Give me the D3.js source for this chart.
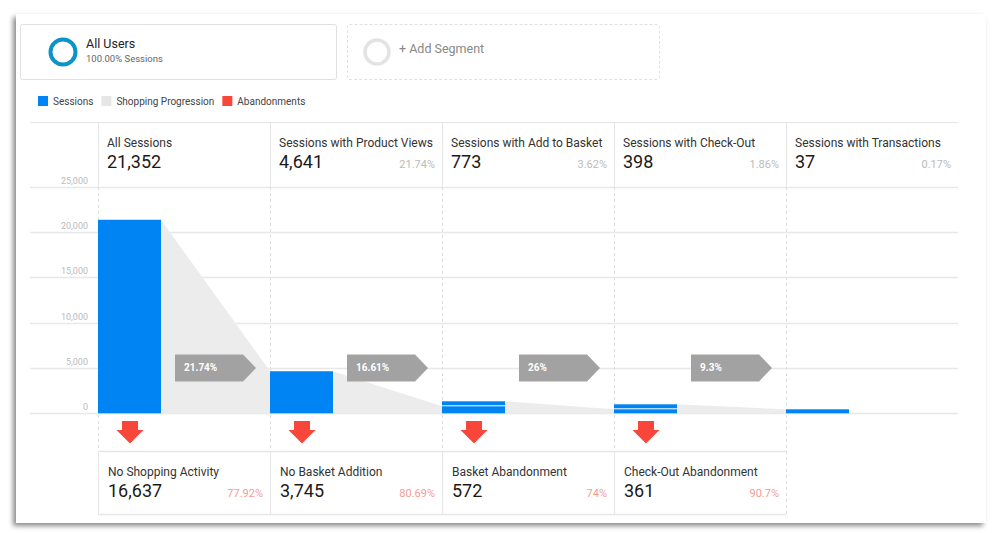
<!DOCTYPE html>
<html><head><meta charset="utf-8">
<script src="https://cdn.jsdelivr.net/npm/d3@7"></script>
<style>
html,body{margin:0;padding:0;background:#fff;}
svg{display:block;font-family:Roboto,"Noto Sans",sans-serif;}
</style></head>
<body>
<svg id="c" width="1000" height="533"></svg>
<script>
// ---- data ----
const steps = ["All Sessions","Sessions with Product Views","Sessions with Add to Basket","Sessions with Check-Out","Sessions with Transactions"];
const sessions = [21352, 4641, 773, 398, 37];
const stepPct = ["", "21.74%", "3.62%", "1.86%", "0.17%"];
const otherEntries = [0, 0, 150, 120, 0];   // small stacked top segments
const progressionRates = ["21.74%", "16.61%", "26%", "9.3%"];
const abandonLabels = ["No Shopping Activity","No Basket Addition","Basket Abandonment","Check-Out Abandonment"];
const abandonValues = [16637, 3745, 572, 361];
const abandonPct = ["77.92%", "80.69%", "74%", "90.7%"];
const yTicks = [0, 5000, 10000, 15000, 20000, 25000];
const legendItems = [["Sessions","#0084f4"],["Shopping Progression","#e6e6e6"],["Abandonments","#f9463a"]];

const svg = d3.select("#c");
const defs = svg.append("defs");
const f = defs.append("filter").attr("id","sh").attr("x","-5%").attr("y","-5%").attr("width","110%").attr("height","115%");
f.append("feDropShadow").attr("dx",-3).attr("dy",3).attr("stdDeviation",2.5).attr("flood-color","#000").attr("flood-opacity",0.45);

// panel
svg.append("rect").attr("x",16).attr("y",14).attr("width",970).attr("height",509).attr("fill","#fff").attr("filter","url(#sh)");

// segment boxes
svg.append("rect").attr("x",20.5).attr("y",24.5).attr("width",316).attr("height",55).attr("rx",2).attr("fill","#fff").attr("stroke","#e0e0e0");
svg.append("circle").attr("cx",63).attr("cy",52).attr("r",12.5).attr("fill","none").attr("stroke","#0b93cc").attr("stroke-width",4);
svg.append("text").attr("x",86).attr("y",48).attr("font-size",12.5).attr("fill","#222").text("All Users");
svg.append("text").attr("x",86).attr("y",62).attr("font-size",9.5).attr("fill","#666").text("100.00% Sessions");
svg.append("rect").attr("x",347.5).attr("y",24.5).attr("width",312).attr("height",55).attr("rx",2).attr("fill","#fff").attr("stroke","#e0e0e0").attr("stroke-dasharray","3,2");
svg.append("circle").attr("cx",377).attr("cy",52).attr("r",12).attr("fill","none").attr("stroke","#e3e3e3").attr("stroke-width",3.5);
svg.append("text").attr("x",399).attr("y",53).attr("font-size",12.5).attr("fill","#888").text("+ Add Segment");

// legend
let lx = 38;
legendItems.forEach(([t,c])=>{
  svg.append("rect").attr("x",lx).attr("y",96).attr("width",10).attr("height",10).attr("fill",c);
  const tx = svg.append("text").attr("x",lx+15).attr("y",105).attr("font-size",10).attr("fill","#444").text(t);
  lx += 15 + tx.node().getComputedTextLength() + 8;
});

// scales
const x = d3.scaleBand().domain(steps).range([98, 958]).padding(0);
const y = d3.scaleLinear().domain([0, 25000]).range([413.3, 186.7]);
const colW = x.bandwidth();
const barW = 63;
const minH = 4, gap = 1;

// header top line
svg.append("line").attr("x1",30).attr("x2",958).attr("y1",122.5).attr("y2",122.5).attr("stroke","#e6e6e6");

// gridlines + y labels
const g = svg.append("g");
yTicks.forEach(t=>{
  g.append("line").attr("x1",30).attr("x2",958).attr("y1",Math.round(y(t))+0.5).attr("y2",Math.round(y(t))+0.5).attr("stroke","#e8e8e8").attr("stroke-width",1.5);
  g.append("text").attr("x",88).attr("y",y(t)-3).attr("text-anchor","end").attr("font-size",9).attr("fill","#bbb").text(d3.format(",")(t));
});

// vertical lines
steps.forEach((s,i)=>{
  const cx = Math.round(x(s))+0.5;
  svg.append("line").attr("x1",cx).attr("x2",cx).attr("y1",122).attr("y2",187).attr("stroke","#e6e6e6");
  svg.append("line").attr("x1",cx).attr("x2",cx).attr("y1",187).attr("y2", i<4 ? 451 : 514).attr("stroke","#dedede").attr("stroke-dasharray","3,3");
  if(i<4) svg.append("line").attr("x1",cx).attr("x2",cx).attr("y1",451).attr("y2",514).attr("stroke","#e6e6e6");
});
// bottom box lines
svg.append("line").attr("x1",98).attr("x2",786).attr("y1",451.5).attr("y2",451.5).attr("stroke","#e6e6e6").attr("stroke-width",1.5);
svg.append("line").attr("x1",98).attr("x2",786).attr("y1",514.5).attr("y2",514.5).attr("stroke","#e6e6e6").attr("stroke-width",1.5);

// header texts
steps.forEach((s,i)=>{
  const x0 = x(s);
  svg.append("text").attr("x",x0+9).attr("y",147).attr("font-size",12).attr("fill","#333").text(s);
  svg.append("text").attr("x",x0+9).attr("y",168).attr("font-size",18).attr("fill","#1a1a1a").text(d3.format(",")(sessions[i]));
  if(stepPct[i]) svg.append("text").attr("x",x0+colW-7).attr("y",168).attr("text-anchor","end").attr("font-size",11).attr("fill","#bbb").text(stepPct[i]);
});

// bar geometry
const base = y(0);
const geo = sessions.map((v,i)=>{
  const lh = Math.max(base - y(v), minH);
  const lowTop = base - lh;
  let top = lowTop;
  if(otherEntries[i]>0){ top = lowTop - gap - Math.max(base - y(otherEntries[i]), minH); }
  return {x0: x(steps[i]), lowTop, top};
});

// funnel (shopping progression)
for(let i=0;i<steps.length-1;i++){
  const a = geo[i], b = geo[i+1];
  const pts = [[a.x0+barW, a.top],[b.x0, b.lowTop],[b.x0, base],[a.x0+barW, base]];
  svg.append("path").attr("d", d3.line()(pts)+"Z").attr("fill","#ececec");
}
// bars
geo.forEach((d,i)=>{
  svg.append("rect").attr("x",d.x0).attr("y",d.lowTop).attr("width",barW).attr("height",base-d.lowTop).attr("fill","#0084f4");
  if(otherEntries[i]>0) svg.append("rect").attr("x",d.x0).attr("y",d.top).attr("width",barW).attr("height",d.lowTop-gap-d.top).attr("fill","#0084f4");
});

// progression tags
progressionRates.forEach((r,i)=>{
  const x0 = x(steps[i]) + 77, cy = y(5000);
  const pts = [[x0,cy-13.5],[x0+68,cy-13.5],[x0+81,cy],[x0+68,cy+13.5],[x0,cy+13.5]];
  svg.append("path").attr("d", d3.line()(pts)+"Z").attr("fill","#a2a2a2");
  svg.append("text").attr("x",x0+9).attr("y",cy+3.5).attr("font-size",10).attr("font-weight","bold").attr("fill","#fff").text(r);
});

// abandonment arrows and boxes
abandonLabels.forEach((l,i)=>{
  const x0 = x(steps[i]);
  const cx = x0 + 32;
  const pts = [[cx-8,421],[cx+8,421],[cx+8,430],[cx+13.5,430],[cx,443.5],[cx-13.5,430],[cx-8,430]];
  svg.append("path").attr("d", d3.line()(pts)+"Z").attr("fill","#f9463a");
  svg.append("text").attr("x",x0+10).attr("y",476).attr("font-size",12).attr("fill","#333").text(l);
  svg.append("text").attr("x",x0+10).attr("y",497).attr("font-size",18).attr("fill","#1a1a1a").text(d3.format(",")(abandonValues[i]));
  svg.append("text").attr("x",x0+colW-7).attr("y",497).attr("text-anchor","end").attr("font-size",11).attr("fill","#f59b93").text(abandonPct[i]);
});
</script>
</body></html>
